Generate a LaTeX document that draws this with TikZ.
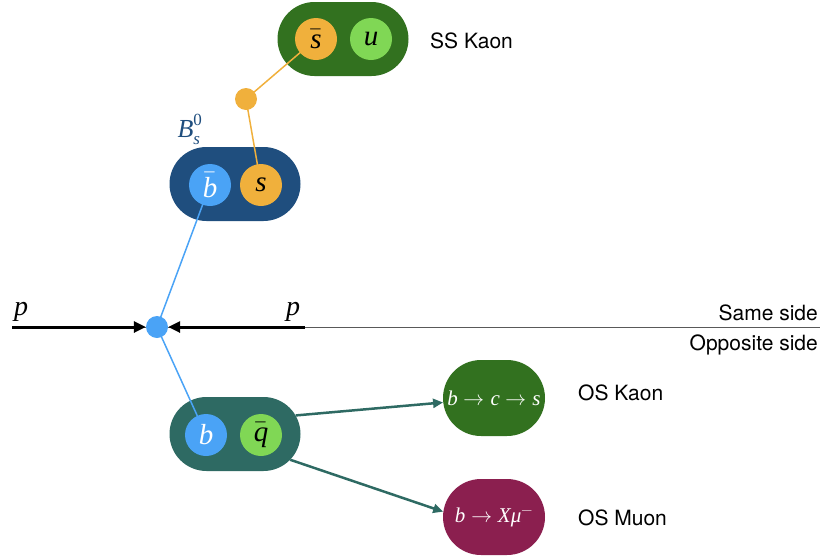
\documentclass[tikz,border=0pt]{standalone}
\usepackage{fontspec}
\usepackage{unicode-math}
\setsansfont{TeX Gyre Heros}
\newfontfamily\tms{Liberation Serif}
\newcommand\qv[1]{\hbox{\tms\itshape #1}}
\newcommand\qsmall[1]{\hbox{\fontsize{17}{19}\selectfont\tms #1}}
\usetikzlibrary{shapes.misc,arrows.meta}
\definecolor{dkgreen}{HTML}{32711F}
\definecolor{ltgreen}{HTML}{80D755}
\definecolor{orng}{HTML}{F0B03C}
\definecolor{dkblue}{HTML}{1F4E7E}
\definecolor{ltblue}{HTML}{4AA3F6}
\definecolor{teal2}{HTML}{2E6A63}
\definecolor{maroon}{HTML}{8B1F4F}
\pgfdeclarelayer{back}
\pgfdeclarelayer{mid}
\pgfsetlayers{back,mid,main}
\tikzset{
  pill/.style={rounded rectangle, minimum width=131pt, minimum height=74pt, inner sep=0pt},
  smallpill/.style={rounded rectangle, minimum width=102pt, minimum height=76pt, inner sep=0pt, text=white, font=\fontsize{21}{24}\selectfont},
  quark/.style={circle, minimum size=42pt, inner sep=0pt, font=\fontsize{29}{32}\selectfont},
  vtxdot/.style={circle, minimum size=22pt, inner sep=0pt},
  lbl/.style={font=\sffamily\fontsize{21}{24}\selectfont, inner sep=0pt},
  plbl/.style={font=\fontsize{28}{30}\selectfont, inner sep=0pt},
  quarkline/.style={line width=1.5pt},
  beam/.style={line width=3pt, -{Triangle[length=12pt,width=11pt]}},
  decay/.style={teal2, line width=2.5pt, -{Triangle[length=10pt,width=9pt]}}
}
\begin{document}
\begin{tikzpicture}[x=1pt,y=-1pt]
\useasboundingbox (0,0) rectangle (820,555);
% pills
\begin{pgfonlayer}{back}
\node[pill, fill=dkgreen] (sskaon) at (343,39) {};
\node[pill, fill=dkblue] (bs) at (235,184) {};
\node[pill, fill=teal2] (bq) at (235,434) {};
\end{pgfonlayer}
% quarks
\node[quark, fill=orng] (sbar) at (316,39) {$\bar{\qv{s}}$};
\node[quark, fill=ltgreen] (u) at (371,39) {$\qv{u}$};
\node[quark, fill=ltblue, text=white] (bbar) at (210,185) {$\bar{\qv{b}}$};
\node[quark, fill=orng] (s) at (261,185) {$\qv{s}$};
\node[quark, fill=ltblue, text=white] (b) at (206,435) {$\qv{b}$};
\node[quark, fill=ltgreen] (qbar) at (261,435) {$\bar{\qv{q}}$};
\node[vtxdot, fill=orng] (frag) at (246,99) {};
\node[vtxdot, fill=ltblue] (pv) at (157,327) {};
% lines under quarks
\begin{pgfonlayer}{mid}
\draw[quarkline, orng] (frag.center) -- (sbar.center);
\draw[quarkline, orng] (frag.center) -- (s.center);
\draw[quarkline, ltblue] (pv.center) -- (bbar.center);
\draw[quarkline, ltblue] (pv.center) -- (b.center);
\end{pgfonlayer}
% beams
\coordinate (lstart) at (12,327);
\coordinate (rstart) at (305,327);
\coordinate (rend) at (820,327);
\begin{pgfonlayer}{back}
\draw[line width=0.8pt, black!65] (lstart) -- (rend);
\end{pgfonlayer}
\draw[beam] (lstart) -- (pv.west);
\draw[beam] (rstart) -- (pv.east);
\node[plbl] (p1) at (21,312) {$\qv{p}$};
\node[plbl] (p2) at (293,312) {$\qv{p}$};
\node[lbl, anchor=east] (same) at (818,313) {Same side};
\node[lbl, anchor=east] (opp) at (818,345) {Opposite side};
% labels
\node[font=\fontsize{26}{28}\selectfont, text=dkblue, inner sep=0pt] (bslbl) at (190,129) {$\qv{B}_{\qsmall{\itshape s}}^{\qsmall{0}}$};
\node[lbl, anchor=west] (sslbl) at (430,41) {SS Kaon};
% OS taggers
\node[smallpill, fill=dkgreen] (oskaon) at (494,398) {$\qv{b}\to \qv{c}\to \qv{s}$};
\node[smallpill, fill=maroon] (osmuon) at (494,517) {$\qv{b}\to \qv{X}\qv{μ}^{-}$};
\node[lbl, anchor=west] (oskl) at (578,393) {OS Kaon};
\node[lbl, anchor=west] (osml) at (578,518) {OS Muon};
\draw[decay] (bq.17) -- (oskaon.185);
\draw[decay] (bq.-25) -- (osmuon.174);
\end{tikzpicture}
\end{document}
